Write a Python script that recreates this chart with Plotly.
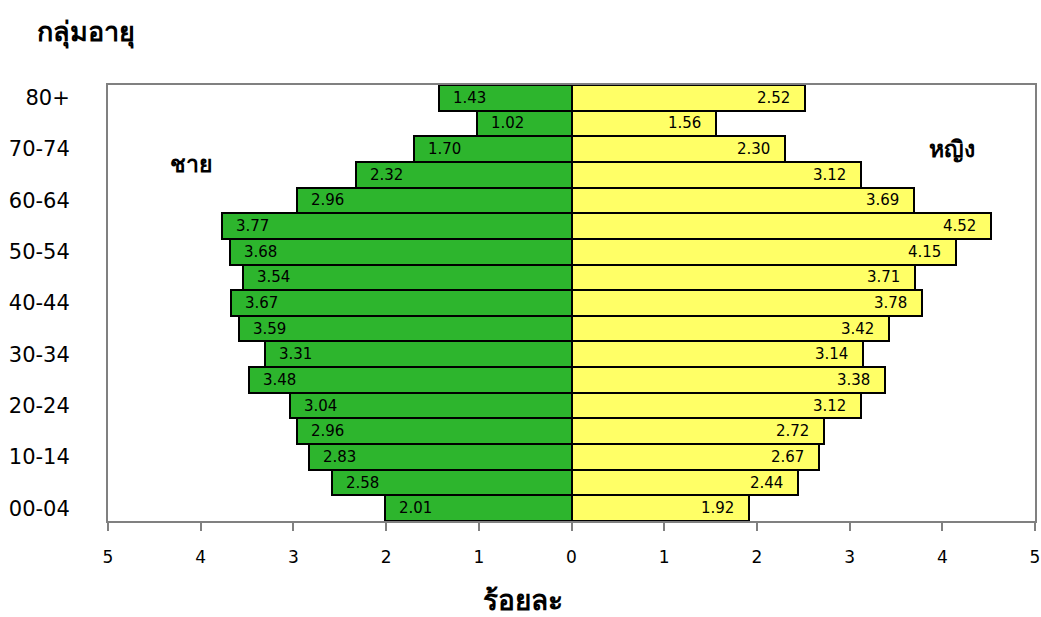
import plotly.graph_objects as go

# Age groups, top to bottom as drawn
age_groups = ["80+", "75-79", "70-74", "65-69", "60-64", "55-59", "50-54", "45-49",
              "40-44", "35-39", "30-34", "25-29", "20-24", "15-19", "10-14", "05-09", "00-04"]
male = [1.43, 1.02, 1.70, 2.32, 2.96, 3.77, 3.68, 3.54, 3.67, 3.59, 3.31, 3.48,
        3.04, 2.96, 2.83, 2.58, 2.01]
female = [2.52, 1.56, 2.30, 3.12, 3.69, 4.52, 4.15, 3.71, 3.78, 3.42, 3.14, 3.38,
          3.12, 2.72, 2.67, 2.44, 1.92]
shown_age_labels = ["80+", "70-74", "60-64", "50-54", "40-44", "30-34", "20-24", "10-14", "00-04"]
x_ticks = [-5, -4, -3, -2, -1, 0, 1, 2, 3, 4, 5]
x_tick_text = [str(abs(v)) for v in x_ticks]

# plot from bottom (00-04) upward on a numeric row index
cats = age_groups[::-1]
rows = list(range(len(cats)))
m_vals = male[::-1]
f_vals = female[::-1]
tick_rows = [cats.index(lbl) for lbl in shown_age_labels]

NUM_FONT = "DejaVu Sans"
THAI_FONT = "Noto Sans, DejaVu Sans, sans-serif"

fig = go.Figure()
fig.add_trace(go.Bar(
    y=rows, x=[-v for v in m_vals], orientation="h", name="ชาย",
    marker=dict(color="#2DB52D", line=dict(color="black", width=2)),
    hoverinfo="skip",
))
fig.add_trace(go.Bar(
    y=rows, x=f_vals, orientation="h", name="หญิง",
    marker=dict(color="#FFFF66", line=dict(color="black", width=2)),
    hoverinfo="skip",
))

annotations = []
for r, v in zip(rows, m_vals):
    annotations.append(dict(x=-v, y=r, xref="x", yref="y", text=f"{v:.2f}",
                            showarrow=False, xanchor="left", xshift=12,
                            font=dict(family=NUM_FONT, size=15, color="black")))
for r, v in zip(rows, f_vals):
    annotations.append(dict(x=v, y=r, xref="x", yref="y", text=f"{v:.2f}",
                            showarrow=False, xanchor="right", xshift=-13,
                            font=dict(family=NUM_FONT, size=15, color="black")))

annotations += [
    dict(x=-0.079, y=1.124, xref="paper", yref="paper", text="<b>กลุ่มอายุ</b>",
         showarrow=False, xanchor="left", yanchor="middle",
         font=dict(family=THAI_FONT, size=27, color="black")),
    dict(x=0.448, y=-0.18, xref="paper", yref="paper", text="<b>ร้อยละ</b>",
         showarrow=False, xanchor="center", yanchor="middle",
         font=dict(family=THAI_FONT, size=28, color="black")),
    dict(x=-4.1, y=cats.index("65-69") + 0.45, xref="x", yref="y", text="<b>ชาย</b>",
         showarrow=False, xanchor="center",
         font=dict(family=THAI_FONT, size=23, color="black")),
    dict(x=4.1, y=cats.index("70-74") + 0.05, xref="x", yref="y", text="<b>หญิง</b>",
         showarrow=False, xanchor="center",
         font=dict(family=THAI_FONT, size=23, color="black")),
]

fig.update_layout(
    width=1041, height=617,
    margin=dict(l=108, r=6, t=85, b=96),
    paper_bgcolor="white", plot_bgcolor="white",
    barmode="relative", bargap=0,
    showlegend=False,
    annotations=annotations,
    xaxis=dict(
        range=[-5, 5], tickvals=x_ticks, ticktext=x_tick_text,
        automargin=False,
        ticks="outside", ticklen=8, tickcolor="#808080", tickwidth=1.5,
        ticklabelstandoff=12,
        tickfont=dict(family=NUM_FONT, size=17, color="black"),
        showgrid=False, zeroline=False,
        showline=True, linecolor="#808080", linewidth=2, mirror=True,
    ),
    yaxis=dict(
        range=[-0.5, len(cats) - 0.5],
        tickvals=tick_rows, ticktext=shown_age_labels,
        automargin=False,
        ticks="", ticklabelstandoff=32,
        tickfont=dict(family=NUM_FONT, size=21, color="black"),
        showgrid=False, zeroline=False,
        showline=True, linecolor="#808080", linewidth=2, mirror=True,
    ),
)

fig.write_html("out.html")
